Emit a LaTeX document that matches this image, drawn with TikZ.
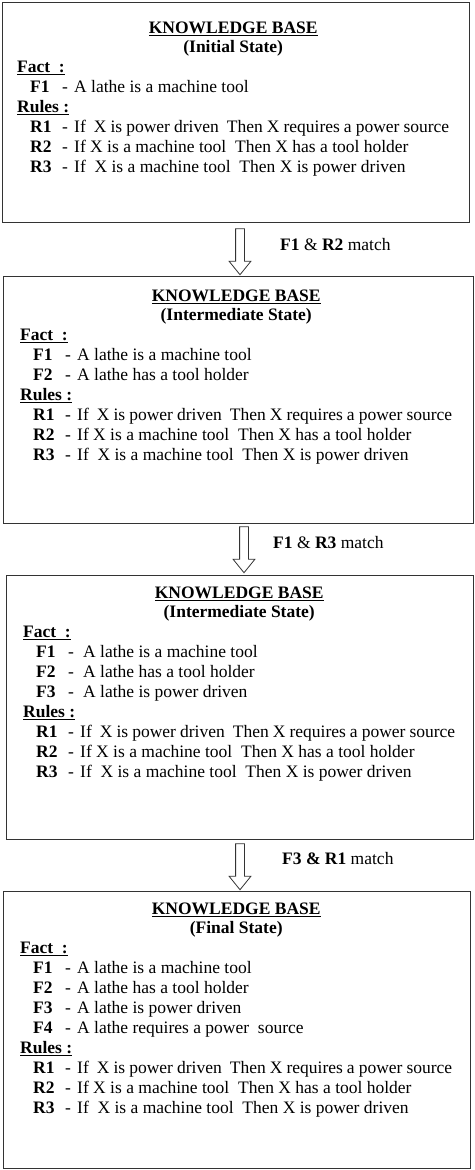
\documentclass[tikz,border=0pt]{standalone}
\usepackage{fontspec}
\setmainfont{Liberation Serif}
\usetikzlibrary{shapes.arrows}

\tikzset{
  kbbox/.style={draw=black!80, line width=1pt, anchor=north west, inner sep=0pt},
  kbtext/.style={anchor=north west, inner sep=0pt, font=\fontsize{17.5}{20}\selectfont},
  blockarrow/.style={draw=black!80, line width=0.8pt, single arrow, single arrow head extend=6.5pt,
    single arrow tip angle=78, inner xsep=0pt, inner ysep=4pt, minimum width=21pt, minimum height=46pt, rotate=-90},
  matchlabel/.style={anchor=west, inner sep=0pt, font=\fontsize{17.5}{20}\selectfont}
}

\newcommand{\kbhead}[1]{{\centering\strut\underline{\textbf{KNOWLEDGE BASE}}\par\vspace{-1pt}\textbf{(#1)}\par}}
\newcommand{\kbsec}[1]{\underline{\textbf{#1}}\par}
\newcommand{\kbitem}[2]{\hspace*{13pt}\makebox[32pt][l]{\textbf{#1}}\makebox[12pt][l]{-}#2\par}
\newcommand{\kbrules}{%
  \kbsec{Rules :}
  \kbitem{R1}{If~ X is power driven~ Then X requires a power source}
  \kbitem{R2}{If X is a machine tool~ Then X has a tool holder}
  \kbitem{R3}{If~ X is a machine tool~ Then X is power driven}}

\begin{document}
\begin{tikzpicture}[x=1pt, y=-1pt]
    \useasboundingbox (0,0) rectangle (474,1170);
    % the four states
    \node[kbbox, minimum width=467pt, minimum height=220pt] (b1) at (2,2) {};
    \node[kbbox, minimum width=470pt, minimum height=247pt] (b2) at (3,276) {};
    \node[kbbox, minimum width=467pt, minimum height=264pt] (b3) at (6,575) {};
    \node[kbbox, minimum width=467pt, minimum height=277pt] (b4) at (3,891) {};
    \node[kbtext] (t1) at (17,19) {\begin{minipage}[t]{432pt}
      \kbhead{Initial State}
      \kbsec{Fact~ :}
      \kbitem{F1}{A lathe is a machine tool}
      \kbrules
    \end{minipage}};
    \node[kbtext] (t2) at (20,287) {\begin{minipage}[t]{432pt}
      \kbhead{Intermediate State}
      \kbsec{Fact~ :}
      \kbitem{F1}{A lathe is a machine tool}
      \kbitem{F2}{A lathe has a tool holder}
      \kbrules
    \end{minipage}};
    \node[kbtext] (t3) at (23,584) {\begin{minipage}[t]{432pt}
      \kbhead{Intermediate State}
      \kbsec{Fact~ :}
      \kbitem{F1}{\hspace*{3pt}A lathe is a machine tool}
      \kbitem{F2}{\hspace*{3pt}A lathe has a tool holder}
      \kbitem{F3}{\hspace*{3pt}A lathe is power driven}
      \kbrules
    \end{minipage}};
    \node[kbtext] (t4) at (20,900) {\begin{minipage}[t]{432pt}
      \kbhead{Final State}
      \kbsec{Fact~ :}
      \kbitem{F1}{A lathe is a machine tool}
      \kbitem{F2}{A lathe has a tool holder}
      \kbitem{F3}{A lathe is power driven}
      \kbitem{F4}{A lathe requires a power~ source}
      \kbrules
    \end{minipage}};
    % matching steps
    \node[blockarrow] (a1) at (240,249) {};
    \node[blockarrow] (a2) at (244,547) {};
    \node[blockarrow] (a3) at (240,864) {};
    \node[matchlabel] (m1) at (280,245) {\textbf{F1} \& \textbf{R2} match};
    \node[matchlabel] (m2) at (273,543) {\textbf{F1} \& \textbf{R3} match};
    \node[matchlabel] (m3) at (282,859) {\textbf{F3 \& R1} match};
\end{tikzpicture}
\end{document}
